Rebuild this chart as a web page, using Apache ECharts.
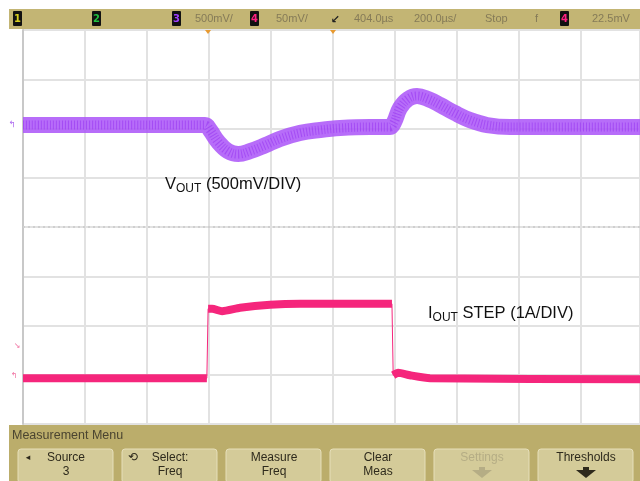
<!DOCTYPE html>
<html><head><meta charset="utf-8">
<script src="https://cdn.jsdelivr.net/npm/echarts@6/dist/echarts.min.js"></script>
<style>html,body{margin:0;padding:0;background:#fff}#c{width:640px;height:481px}</style>
</head><body><div id="c"></div>
<script>
// time in microseconds from left edge of screen (200 us/div), amplitude in divisions
const voutTime = [0,248,587,603,629,661,694,732,781,829,894,958,1023,1119,1184,1197,1216,1242,1271,1306,1345,1394,1442,1497,1571,1990];
const voutDiv  = [2.07,2.07,2.07,1.97,1.73,1.54,1.48,1.54,1.66,1.79,1.91,1.97,2.01,2.03,2.03,2.13,2.42,2.60,2.66,2.60,2.48,2.31,2.17,2.07,2.03,2.03];
const ioutTime = [0,593,597,610,642,700,797,894,1190,1194,1210,1248,1313,1990];
const ioutDiv  = [-3.07,-3.07,-1.66,-1.66,-1.71,-1.64,-1.58,-1.56,-1.56,-3.01,-2.96,-3.01,-3.07,-3.09];
const xTicks = [0,200,400,600,800,1000,1200,1400,1600,1800];
const yTicks = [-4,-3,-2,-1,0,1,2,3,4];
const topBar = [
  {t:'500mV/', x:195}, {t:'50mV/', x:276}, {t:'404.0µs', x:354}, {t:'200.0µs/', x:414},
  {t:'Stop', x:485}, {t:'f', x:535}, {t:'22.5mV', x:592}
];
const badges = [{n:'1',c:'#d8d020',x:13},{n:'2',c:'#20c040',x:92},{n:'3',c:'#a040ff',x:172},{n:'4',c:'#ff2080',x:250},{n:'4',c:'#ff2080',x:560}];
const buttons = [
  {a:'Source', b:'3', x:18}, {a:'Select:', b:'Freq', x:122}, {a:'Measure', b:'Freq', x:226},
  {a:'Clear', b:'Meas', x:330}, {a:'Settings', b:'', x:434, dim:true}, {a:'Thresholds', b:'', x:538}
];

const voutData = voutTime.map((t,i)=>[t,voutDiv[i]]);
const ioutFull = ioutTime.map((t,i)=>[t,ioutDiv[i]]);
// thick band segments: break where the step is (near-vertical jumps)
const ioutSeg = [];
ioutFull.forEach((p,i)=>{
  if(i>0 && p[0]-ioutFull[i-1][0] < 5){ ioutSeg.push([p[0],'-']); }
  ioutSeg.push(p);
});

const chart = echarts.init(document.getElementById('c'), null, {renderer:'canvas'});
const g = [];
// top status bar
g.push({type:'rect', shape:{x:9,y:9,width:631,height:20}, style:{fill:'#c3b574'}, z:10});
badges.forEach(b=>{
  g.push({type:'rect', shape:{x:b.x,y:11,width:9,height:15,r:1}, style:{fill:'#111'}, z:11});
  g.push({type:'text', x:b.x+4.5, y:19, style:{text:b.n, fill:b.c, font:'bold 10px DejaVu Sans', align:'center', verticalAlign:'middle'}, z:12});
});
topBar.forEach(o=>{
  g.push({type:'text', x:o.x, y:19, style:{text:o.t, fill:'#857b58', font:'11px "Liberation Sans Narrow", "Liberation Sans"', verticalAlign:'middle'}, z:12});
});
g.push({type:'text', x:335, y:20, style:{text:'↙', fill:'#222', font:'bold 11px DejaVu Sans', align:'center', verticalAlign:'middle'}, z:12});
// orange markers at top of grid
[208,333].forEach(x=>g.push({type:'polygon', shape:{points:[[x-3,30],[x+3,30],[x,34]]}, style:{fill:'#e89a30'}, z:12}));
// left channel markers
g.push({type:'text', x:12, y:125, style:{text:'↰', fill:'#b070f0', font:'9px DejaVu Sans', align:'center', verticalAlign:'middle'}, z:12});
g.push({type:'text', x:17, y:346, style:{text:'↘', fill:'#f070a0', font:'8px DejaVu Sans', align:'center', verticalAlign:'middle'}, z:12});
g.push({type:'text', x:14, y:376, style:{text:'↰', fill:'#f070a0', font:'8px DejaVu Sans', align:'center', verticalAlign:'middle'}, z:12});
// waveform annotations
const rich = {m:{font:'16.5px "Liberation Sans"',fill:'#111'},s:{font:'12px "Liberation Sans"',fill:'#111',padding:[9,0,0,0]}};
g.push({type:'text', x:165, y:184, style:{rich:rich, text:'{m|V}{s|OUT}{m| (500mV/DIV)}', verticalAlign:'middle'}, z:12});
g.push({type:'text', x:428, y:313, style:{rich:rich, text:'{m|I}{s|OUT}{m| STEP (1A/DIV)}', verticalAlign:'middle'}, z:12});
// bottom menu
g.push({type:'rect', shape:{x:9,y:425,width:631,height:56}, style:{fill:'#bbad6b'}, z:10});
g.push({type:'text', x:12, y:436, style:{text:'Measurement Menu', fill:'#4a4430', font:'12.5px "Liberation Sans"', verticalAlign:'middle'}, z:12});
buttons.forEach(b=>{
  g.push({type:'rect', shape:{x:b.x,y:449,width:95,height:34,r:3}, style:{fill:'#d4cb99', stroke:'#e6dfba', lineWidth:1}, z:11});
  const col = b.dim ? '#b5ad85' : '#2e2a1c';
  g.push({type:'text', x:b.x+48, y:458, style:{text:b.a, fill:col, font:'12px "Liberation Sans"', align:'center', verticalAlign:'middle'}, z:12});
  if(b.b) g.push({type:'text', x:b.x+48, y:472, style:{text:b.b, fill:col, font:'12px "Liberation Sans"', align:'center', verticalAlign:'middle'}, z:12});
  else {
    const cx=b.x+48;
    g.push({type:'polygon', shape:{points:[[cx-3,467],[cx+3,467],[cx+3,470],[cx+10,470],[cx,478],[cx-10,470],[cx-3,470]]}, style:{fill:col}, z:12});
  }
});
g.push({type:'text', x:28, y:458, style:{text:'◂', fill:'#2e2a1c', font:'9px DejaVu Sans', align:'center', verticalAlign:'middle'}, z:12});
g.push({type:'text', x:133, y:458, style:{text:'⟲', fill:'#2e2a1c', font:'12px DejaVu Sans', align:'center', verticalAlign:'middle'}, z:12});

chart.setOption({
  animation:false,
  backgroundColor:'#ffffff',
  grid:{left:23, right:0, top:30, height:394},
  xAxis:{type:'value', min:0, max:1990, interval:200,
    axisLine:{show:false}, axisTick:{show:false}, axisLabel:{show:false},
    splitLine:{show:true, showMinLine:true, lineStyle:{color:'#e2e2e2', width:2}}},
  yAxis:{type:'value', min:-4, max:4, interval:1,
    axisLine:{show:true, lineStyle:{color:'#c8c8c8', width:2}}, axisTick:{show:false}, axisLabel:{show:false},
    splitLine:{show:true, lineStyle:{color:'#e2e2e2', width:2}}},
  series:[
    {type:'line', data:[], z:1,
      markLine:{silent:true, symbol:'none', label:{show:false}, z:1,
        lineStyle:{color:'#cfcfcf', width:2, type:[2,3]},
        data:[{yAxis:0}]}},
    {type:'line', data:voutData, showSymbol:false, smooth:0.4, z:3,
      lineStyle:{color:'rgba(170,84,248,0.85)', width:16}},
    {type:'line', data:voutData, showSymbol:false, smooth:0.4, z:4,
      lineStyle:{color:'rgba(150,50,240,0.55)', width:9, type:[1,2]}},
    {type:'line', data:ioutSeg, showSymbol:false, connectNulls:false, smooth:0.2, z:3,
      lineStyle:{color:'#f5267c', width:8}},
    {type:'line', data:ioutFull, showSymbol:false, z:3,
      lineStyle:{color:'#f5267c', width:1}}
  ],
  graphic:g
});
</script></body></html>
